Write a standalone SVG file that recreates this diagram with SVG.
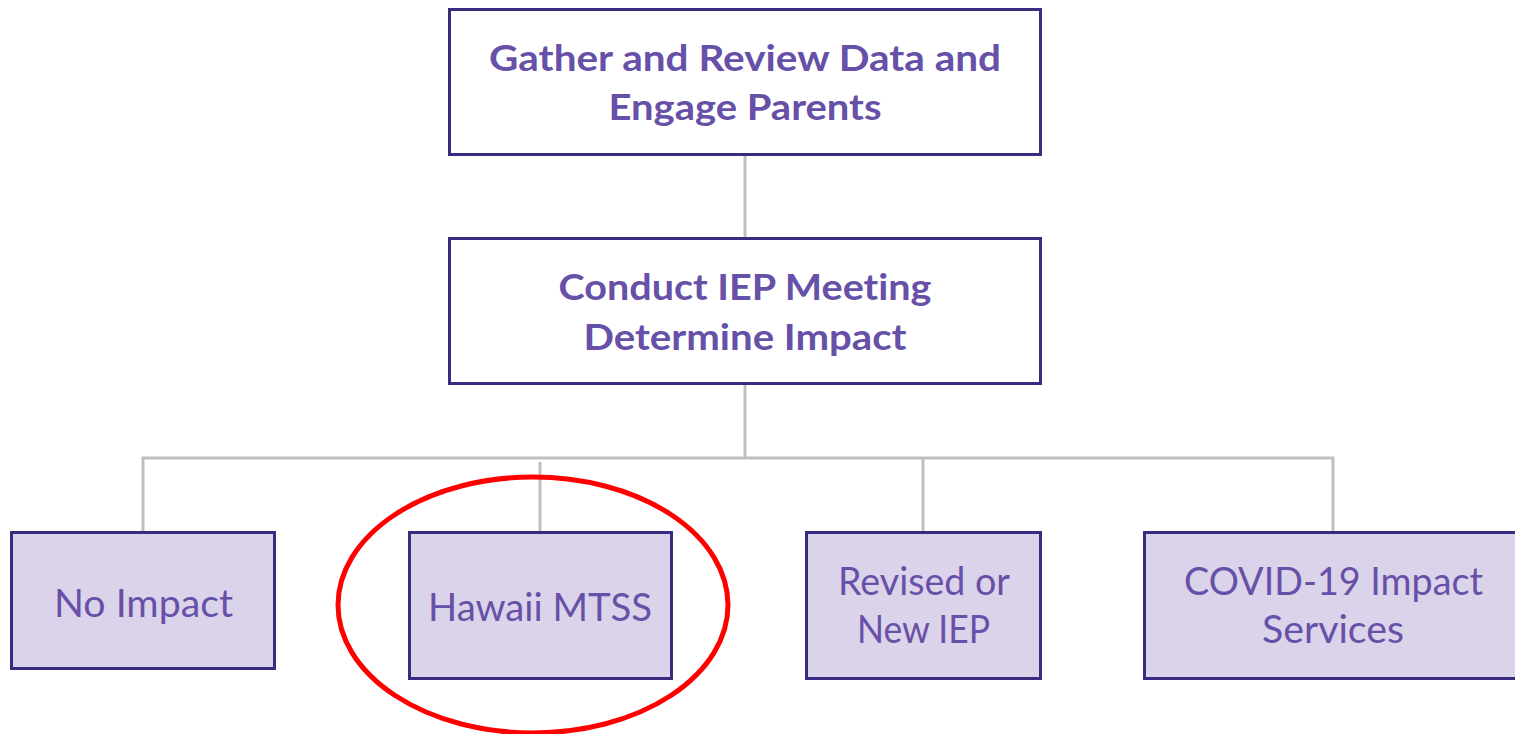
<svg xmlns="http://www.w3.org/2000/svg" width="1515" height="734" viewBox="0 0 1515 734">
  <style>
    .box { stroke: #3A2A80; stroke-width: 3; }
    .top { fill: #FFFFFF; }
    .leaf { fill: #DAD3E9; }
    .t { font-family: Lato, "Open Sans", "Liberation Sans", sans-serif; fill: #6750A8; text-anchor: middle; font-variant-ligatures: none; font-feature-settings: "liga" 0, "clig" 0, "dlig" 0, "calt" 0; }
    .b { font-weight: bold; font-size: 37px; }
    .r { font-weight: normal; font-size: 38px; }
    .conn { stroke: #BFBFBF; stroke-width: 3; fill: none; }
  </style>
  <rect width="1515" height="734" fill="#FFFFFF"/>
  <g id="connectors">
    <line class="conn" x1="745" y1="155" x2="745" y2="238"/>
    <line class="conn" x1="745" y1="384" x2="745" y2="458"/>
    <polyline class="conn" points="143,532 143,458 1333,458 1333,532"/>
    <line class="conn" x1="540" y1="462" x2="540" y2="532"/>
    <line class="conn" x1="923" y1="458" x2="923" y2="532"/>
  </g>
  <g id="node-gather">
    <rect class="box top" x="449.5" y="9.5" width="591" height="145"/>
    <text class="t b" x="745" y="71" textLength="512" lengthAdjust="spacingAndGlyphs">Gather and Review Data and</text>
    <text class="t b" x="745" y="120" textLength="273" lengthAdjust="spacingAndGlyphs">Engage Parents</text>
  </g>
  <g id="node-conduct">
    <rect class="box top" x="449.5" y="238.5" width="591" height="145"/>
    <text class="t b" x="745" y="300" textLength="373" lengthAdjust="spacingAndGlyphs">Conduct IEP Meeting</text>
    <text class="t b" x="745" y="350" textLength="323" lengthAdjust="spacingAndGlyphs">Determine Impact</text>
  </g>
  <g id="node-no-impact">
    <rect class="box leaf" x="11.5" y="532.5" width="263" height="136"/>
    <text class="t r" x="143.5" y="617" textLength="179" lengthAdjust="spacingAndGlyphs">No Impact</text>
  </g>
  <g id="node-hawaii">
    <rect class="box leaf" x="409.5" y="532.5" width="262" height="146"/>
    <text class="t r" x="540" y="621" textLength="224" lengthAdjust="spacingAndGlyphs">Hawaii MTSS</text>
  </g>
  <g id="node-revised">
    <rect class="box leaf" x="806.5" y="532.5" width="234" height="146"/>
    <text class="t r" x="924" y="595" textLength="172" lengthAdjust="spacingAndGlyphs">Revised or</text>
    <text class="t r" x="923.5" y="643" textLength="133" lengthAdjust="spacingAndGlyphs">New IEP</text>
  </g>
  <g id="node-covid">
    <rect class="box leaf" x="1144.5" y="532.5" width="380" height="146"/>
    <text class="t r" x="1333.5" y="595" textLength="299" lengthAdjust="spacingAndGlyphs">COVID-19 Impact</text>
    <text class="t r" x="1333" y="643" textLength="142" lengthAdjust="spacingAndGlyphs">Services</text>
  </g>
  <ellipse id="highlight" cx="533" cy="605" rx="195" ry="128" fill="none" stroke="#FF0000" stroke-width="5"/>
</svg>
